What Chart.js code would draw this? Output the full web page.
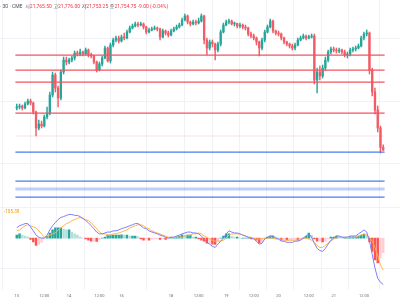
<!DOCTYPE html>
<html><head><meta charset="utf-8">
<script src="https://cdn.jsdelivr.net/npm/chart.js@4.4.1/dist/chart.umd.min.js"></script>
<style>
html,body{margin:0;padding:0;background:#fff;width:400px;height:300px;overflow:hidden;}
#wrap{position:relative;width:400px;height:300px;overflow:hidden;}
canvas{position:absolute;left:0;}
#c1{top:0}
#c2{top:200px}
.hdr{position:absolute;left:0;top:3px;font-family:Roboto,'Noto Sans CJK KR',sans-serif;font-size:5px;white-space:nowrap;color:#4a4d57;line-height:6px}
.hdr .v{color:#f23645}
.hdr .k{margin-left:1.6px}
.ml{position:absolute;left:4px;top:209px;font-family:Roboto,sans-serif;font-size:4.6px;color:#ff9800;line-height:6px}
</style></head>
<body><div id="wrap">
<canvas id="c1" width="400" height="200"></canvas>
<canvas id="c2" width="400" height="106"></canvas>
<div class="hdr">· 30 · CME <span class="k">시</span><span class="v">21,765.50</span><span class="k">고</span><span class="v">21,776.00</span><span class="k">저</span><span class="v">21,753.25</span><span class="k">종</span><span class="v">21,754.75</span> <span class="v">-9.00 (-0.04%)</span></div>
<div class="ml">-105.38</div>
</div>
<script>
// ---- data ----
const tickIndex  = [0,10,19,30,38,56,66,76,86,95,106,115,126];
const tickLabels = ['13','12:00','14','12:00','16','18','12:00','19','12:00','20','12:00','21','12:00'];

const candleOpen = [21923,21927,21931,21923,21939,21951,21943,21907,21843,21859,
 21851,21887,21903,21975,22055,22003,21963,22067,22115,22107,
 22115,22123,22143,22139,22147,22139,22155,22135,22131,22107,
 22075,22099,22123,22163,22111,22175,22195,22203,22191,22207,
 22203,22227,22243,22251,22259,22255,22259,22247,22227,22235,
 22239,22243,22239,22207,22231,22223,22215,22231,22239,22247,
 22255,22275,22291,22267,22259,22267,22263,22271,22291,22195,
 22163,22187,22179,22155,22179,22227,22255,22267,22271,22259,
 22261,22251,22255,22247,22243,22219,22211,22203,22187,22163,
 22195,22227,22247,22271,22231,22223,22219,22203,22187,22179,
 22171,22163,22175,22195,22203,22211,22203,22207,22211,22035,
 22067,22051,22083,22115,22147,22159,22155,22151,22155,22147,
 22135,22139,22155,22159,22163,22171,22203,22219,22223,22075,
 21987,21915,21843,21765.5];
const candleClose = [21927,21931,21923,21939,21951,21943,21907,21843,21859,21851,
 21887,21903,21975,22055,22003,21963,22067,22115,22107,22115,
 22123,22143,22139,22147,22139,22155,22135,22131,22107,22075,
 22099,22123,22163,22111,22175,22195,22203,22191,22207,22203,
 22227,22243,22251,22259,22255,22259,22247,22227,22235,22239,
 22243,22239,22207,22231,22223,22215,22231,22239,22247,22255,
 22275,22291,22267,22259,22267,22263,22271,22291,22195,22163,
 22187,22179,22155,22179,22227,22255,22267,22271,22259,22261,
 22251,22255,22247,22243,22219,22211,22203,22187,22163,22195,
 22227,22247,22271,22231,22223,22219,22203,22187,22179,22171,
 22163,22175,22195,22203,22211,22203,22207,22211,22035,22067,
 22051,22083,22115,22147,22159,22155,22151,22155,22147,22135,
 22139,22155,22159,22163,22171,22203,22219,22223,22075,21987,
 21915,21843,21765.5,21754.75];
const candleHigh = [21939,21939,21935,21947,21959,21959,21947,21911,21875,21871,
 21895,21927,21987,22067,22063,22011,22075,22127,22127,22123,
 22131,22151,22151,22159,22151,22163,22159,22143,22135,22111,
 22107,22131,22171,22167,22183,22203,22211,22211,22215,22223,
 22235,22251,22259,22267,22267,22267,22263,22251,22243,22247,
 22251,22247,22243,22239,22235,22231,22239,22247,22255,22263,
 22283,22299,22295,22271,22275,22275,22283,22299,22295,22203,
 22195,22195,22183,22187,22235,22263,22275,22279,22275,22267,
 22263,22263,22259,22255,22247,22227,22219,22207,22191,22203,
 22235,22255,22279,22275,22235,22231,22223,22207,22191,22183,
 22179,22183,22203,22211,22219,22215,22215,22219,22219,22083,
 22091,22095,22127,22155,22167,22167,22163,22163,22159,22155,
 22147,22163,22167,22171,22179,22211,22227,22235,22227,22083,
 22003,21931,21851,21776];
const candleLow = [21915,21919,21915,21919,21935,21935,21899,21811,21835,21843,
 21847,21879,21895,21967,21987,21927,21955,22059,22095,22099,
 22107,22115,22131,22131,22131,22135,22127,22123,22099,22067,
 22071,22091,22119,22107,22103,22167,22187,22183,22187,22195,
 22199,22223,22239,22247,22247,22251,22239,22219,22223,22231,
 22235,22231,22195,22203,22215,22207,22211,22227,22235,22243,
 22251,22271,22259,22251,22255,22255,22259,22267,22179,22135,
 22155,22167,22115,22147,22171,22223,22251,22259,22255,22251,
 22243,22243,22239,22235,22211,22203,22195,22175,22131,22155,
 22187,22223,22243,22223,22215,22211,22195,22179,22171,22163,
 22155,22155,22171,22191,22199,22195,22199,22203,22019,21983,
 22035,22043,22075,22107,22139,22147,22143,22143,22139,22127,
 22123,22131,22147,22151,22159,22167,22195,22211,22059,21971,
 21899,21827,21743,21753.25];

const macdLine = [34,41,44,48,48,37,24,10,3,0,
 0,10,27,41,51,61,68,71,75,78,
 78,75,75,71,65,58,51,41,31,20,
 14,14,17,20,20,24,24,27,31,34,
 37,41,44,48,48,41,34,31,24,20,
 17,14,10,7,3,0,3,3,7,10,
 14,17,20,20,17,17,14,7,-3,-14,
 -20,-27,-31,-20,-10,0,14,24,20,17,
 17,14,10,7,3,0,-3,-10,-20,-17,
 -3,3,7,7,0,-3,-10,-10,-14,-14,
 -14,-10,-10,-7,0,7,14,3,-17,-34,
 -41,-44,-34,-20,-7,0,7,7,3,3,
 3,7,7,7,14,20,27,20,-10,-54,
 -99,-133,-146,-153];
const signalLine = [24,27,34,41,44,41,37,34,24,14,
 3,3,10,14,17,27,34,41,48,51,
 58,61,65,68,65,61,58,51,41,31,
 20,14,14,10,10,14,14,17,20,24,
 27,34,37,41,44,44,41,34,31,24,
 20,17,14,10,7,3,3,3,3,3,
 3,7,10,10,14,14,17,14,7,3,
 -3,-7,-10,-10,-10,-7,0,10,14,14,
 14,14,10,7,3,3,0,-3,-3,-3,
 0,0,0,0,-3,-3,-3,-7,-7,-7,
 -7,-7,-3,-3,0,0,-3,-7,-14,-24,
 -31,-31,-24,-17,-10,-3,0,3,3,3,
 3,3,3,3,7,10,14,10,3,-10,
 -31,-58,-88,-105.38];
const macdHist = [10,14,10,7,4,-4,-13,-24,-21,-14,
 -3,7,17,27,34,34,34,30,27,27,
 20,14,10,3,0,-3,-7,-10,-10,-11,
 -6,0,3,10,10,10,10,10,11,10,
 10,7,7,7,4,-3,-7,-3,-7,-4,
 -3,-3,-4,-3,-4,-3,0,0,4,7,
 11,10,10,10,3,3,-3,-7,-10,-17,
 -17,-20,-21,-10,0,7,14,14,6,3,
 3,0,0,0,0,-3,-3,-7,-17,-14,
 -3,3,7,7,3,0,-7,-3,-7,-7,
 -7,-3,-7,-4,0,7,17,10,-3,-10,
 -10,-13,-10,-3,3,3,7,4,0,0,
 0,4,4,4,7,10,13,10,-13,-44,
 -72,-82,-66,-48];

const redLevels = [22135, 22075, 22027, 21903];
const faintLevels = [21811];
const blueLevels = [21747, 21631, 21567];
const zoneLevels = [21599];
const priceGrid = [21700, 21950, 22200];
const macdGrid = [-100, 100];

// ---- build ----
const N = candleClose.length;
const xMin = -0.5, xMax = N - 0.5;
const UP = '#26a69a', DOWN = '#f25c66';
const candleColors = candleClose.map((c,i)=> c >= candleOpen[i] ? UP : DOWN);
const bodies = candleClose.map((c,i)=>({x:i, y:[candleOpen[i], c]}));
const wicks = candleClose.map((c,i)=>({x:i, y:[candleLow[i], candleHigh[i]]}));
const lvl = p => [{x:xMin,y:p},{x:xMax,y:p}];
const lineDs = (p,color,w) => ({type:'line', data:lvl(p), borderColor:color, borderWidth:w, pointRadius:0, order:0});
const FONT = 'Roboto, sans-serif';
const GRID = '#f0f2f6';

const xTicksHook = s => { s.ticks = tickIndex.map(v=>({value:v})); };

new Chart(document.getElementById('c1'), {
  type:'bar',
  data:{datasets:[
    ...redLevels.map(p=>lineDs(p,'#f05560',1.25)),
    ...faintLevels.map(p=>lineDs(p,'rgba(242,54,69,0.16)',1)),
    ...blueLevels.map(p=>lineDs(p,'#4a7cf2',1.25)),
    ...zoneLevels.map(p=>lineDs(p,'rgba(60,110,245,0.33)',3)),
    {type:'bar', data:wicks, backgroundColor:candleColors, barThickness:0.8, grouped:false, order:2},
    {type:'bar', data:bodies, backgroundColor:candleColors, barThickness:1.7, grouped:false, minBarLength:1, order:1}
  ]},
  options:{
    responsive:false, animation:false, devicePixelRatio:1,
    layout:{padding:0, autoPadding:false},
    plugins:{legend:{display:false}, tooltip:{enabled:false}},
    scales:{
      x:{type:'linear', min:xMin, max:xMax, border:{display:false},
         grid:{color:GRID, drawTicks:false}, ticks:{display:false}, afterBuildTicks:xTicksHook},
      y:{min:21555, max:22355, border:{display:false},
         grid:{color:GRID, drawTicks:false}, ticks:{display:false},
         afterBuildTicks:s=>{ s.ticks = priceGrid.map(v=>({value:v})); }}
    }
  }
});

const histColors = macdHist.map((v,i)=>{
  const prev = i>0 ? macdHist[i-1] : 0;
  if (v >= 0) return v >= prev ? '#26a69a' : '#b2dfdb';
  return v < prev ? '#ff5252' : '#ffcdd2';
});

new Chart(document.getElementById('c2'), {
  type:'bar',
  data:{datasets:[
    {type:'line', data:macdLine.map((v,i)=>({x:i,y:v})), borderColor:'#7d7dff', borderWidth:1, pointRadius:0, order:0},
    {type:'line', data:signalLine.map((v,i)=>({x:i,y:v})), borderColor:'#ffb547', borderWidth:1, pointRadius:0, order:1},
    {type:'bar', data:macdHist.map((v,i)=>({x:i,y:v})), backgroundColor:histColors, barThickness:1.8, grouped:false, order:2}
  ]},
  options:{
    responsive:false, animation:false, devicePixelRatio:1,
    layout:{padding:{left:0,right:0,top:0,bottom:3.6}, autoPadding:false},
    plugins:{legend:{display:false}, tooltip:{enabled:false}},
    scales:{
      x:{type:'linear', min:xMin, max:xMax, border:{display:false},
         grid:{color:GRID, drawTicks:false},
         ticks:{font:{family:FONT, size:4}, color:'#6a6d78', padding:4, autoSkip:false, maxRotation:0,
                callback:v=>{ const k = tickIndex.indexOf(v); return k>=0 ? tickLabels[k] : ''; }},
         afterBuildTicks:xTicksHook},
      y:{min:-170, max:125.8, border:{display:false},
         grid:{color:GRID, drawTicks:false}, ticks:{display:false},
         afterBuildTicks:s=>{ s.ticks = macdGrid.map(v=>({value:v})); }}
    }
  }
});
</script>
</body></html>
